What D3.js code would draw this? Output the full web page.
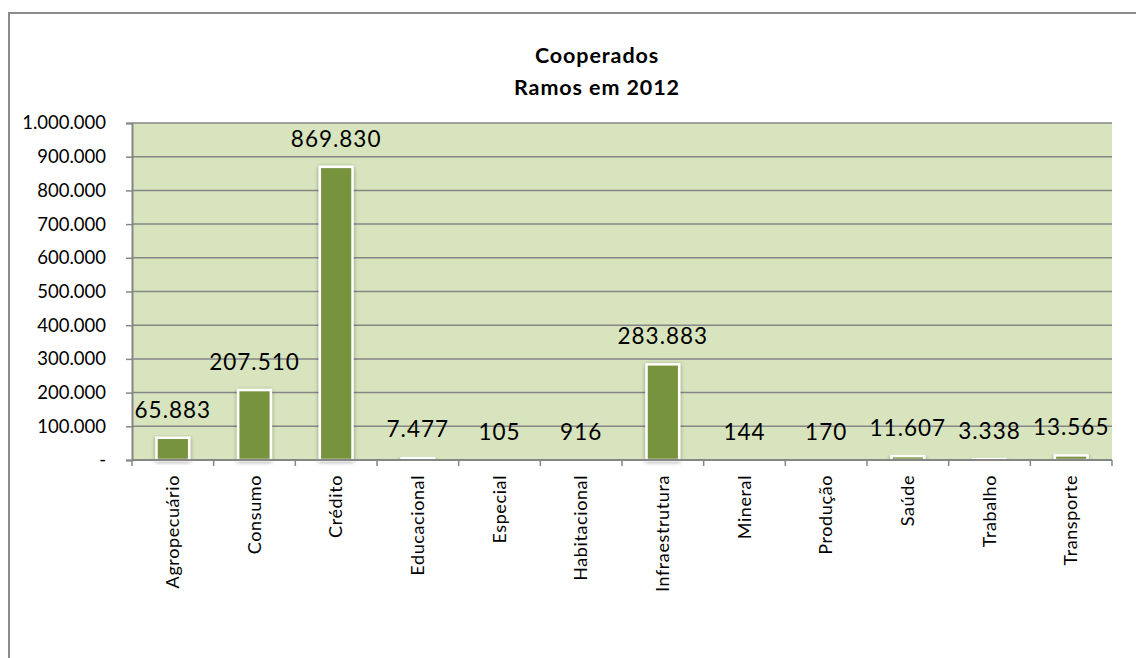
<!DOCTYPE html>
<html>
<head>
<meta charset="utf-8">
<script src="https://cdn.jsdelivr.net/npm/d3@7/dist/d3.min.js"></script>
<style>
  html, body { margin: 0; padding: 0; background: #ffffff; }
  svg text { font-family: Lato, "Open Sans", sans-serif; fill: #000; }
</style>
</head>
<body>
<svg id="chart" width="1136" height="658"></svg>
<script>
// Cooperados por ramo, 2012
const categories = ["Agropecuário", "Consumo", "Crédito", "Educacional", "Especial", "Habitacional",
                    "Infraestrutura", "Mineral", "Produção", "Saúde", "Trabalho", "Transporte"];
const cooperados = [65883, 207510, 869830, 7477, 105, 916, 283883, 144, 170, 11607, 3338, 13565];
const yTicks = [0, 100000, 200000, 300000, 400000, 500000, 600000, 700000, 800000, 900000, 1000000];
const titleLines = ["Cooperados", "Ramos em 2012"];

const ptBR = d3.formatLocale({ decimal: ",", thousands: ".", grouping: [3], currency: ["R$ ", ""] });
const fmt = ptBR.format(",d");
const fmtTick = v => v === 0 ? "-" : fmt(v);

const svg = d3.select("#chart");
const plot = { left: 132, right: 1112, top: 123, bottom: 460 };

// outer chart frame
svg.append("rect")
  .attr("x", 9).attr("y", 13).attr("width", 1140).attr("height", 660)
  .attr("fill", "none").attr("stroke", "#8c8c8c").attr("stroke-width", 2);

// title
svg.append("g").selectAll("text").data(titleLines).join("text")
  .attr("x", 597).attr("y", (d, i) => 63 + i * 32)
  .attr("text-anchor", "middle")
  .style("font-size", "21.5px").style("font-weight", "bold").style("letter-spacing", "0.9px")
  .text(d => d);

const x = d3.scaleBand().domain(categories).range([plot.left, plot.right])
  .paddingInner(0.6).paddingOuter(0.3);
const y = d3.scaleLinear().domain([0, 1000000]).range([plot.bottom, plot.top]);

// plot area
svg.append("rect")
  .attr("x", plot.left).attr("y", plot.top)
  .attr("width", plot.right - plot.left).attr("height", plot.bottom - plot.top)
  .attr("fill", "#d7e4bd");

// gridlines
svg.append("g").selectAll("line").data(yTicks.filter(v => v > 0)).join("line")
  .attr("x1", plot.left).attr("x2", plot.right)
  .attr("y1", d => y(d)).attr("y2", d => y(d))
  .attr("stroke", "#868686").attr("stroke-width", 1.5);

// y axis
const yAxis = svg.append("g").attr("transform", `translate(${plot.left},0)`)
  .call(d3.axisLeft(y).tickValues(yTicks).tickFormat(fmtTick).tickSize(6).tickPadding(20));
yAxis.select(".domain").attr("stroke", "#868686").attr("stroke-width", 2);
yAxis.selectAll(".tick line").attr("stroke", "#868686").attr("stroke-width", 1.5);
yAxis.selectAll(".tick text")
  .style("font-family", "Lato, sans-serif").style("font-size", "18.5px").attr("fill", "#000");

// bars
const defs = svg.append("defs");
const f = defs.append("filter").attr("id", "barShadow")
  .attr("x", "-30%").attr("y", "-10%").attr("width", "160%").attr("height", "130%");
f.append("feDropShadow").attr("dx", 0).attr("dy", 1).attr("stdDeviation", 2.2)
  .attr("flood-color", "#000").attr("flood-opacity", 0.35);

svg.append("g").selectAll("rect").data(categories).join("rect")
  .attr("x", d => x(d))
  .attr("y", (d, i) => y(cooperados[i]))
  .attr("width", x.bandwidth())
  .attr("height", (d, i) => y(0) - y(cooperados[i]))
  .attr("fill", "#77933c").attr("stroke", "#ffffff").attr("stroke-width", 2.5)
  .attr("filter", "url(#barShadow)");

// x axis line and category separators
svg.append("line")
  .attr("x1", plot.left).attr("x2", plot.right)
  .attr("y1", plot.bottom).attr("y2", plot.bottom)
  .attr("stroke", "#868686").attr("stroke-width", 2);
const gap = (x.step() - x.bandwidth()) / 2;
const bounds = categories.map(c => x(c) - gap).concat([plot.right]);
svg.append("g").selectAll("line").data(bounds).join("line")
  .attr("x1", d => d).attr("x2", d => d)
  .attr("y1", plot.bottom).attr("y2", plot.bottom + 6)
  .attr("stroke", "#868686").attr("stroke-width", 1.5);

// category labels (rotated)
svg.append("g").selectAll("text").data(categories).join("text")
  .attr("transform", d => `translate(${x(d) + x.bandwidth() / 2 + 6},${plot.bottom + 15}) rotate(-90)`)
  .attr("text-anchor", "end")
  .style("font-size", "18px").style("letter-spacing", "0.6px")
  .text(d => d);

// value labels
svg.append("g").selectAll("text").data(categories).join("text")
  .attr("x", d => x(d) + x.bandwidth() / 2)
  .attr("y", (d, i) => y(cooperados[i]) - 20)
  .attr("text-anchor", "middle")
  .style("font-size", "22.5px").style("letter-spacing", "1px")
  .text((d, i) => fmt(cooperados[i]));
</script>
</body>
</html>
